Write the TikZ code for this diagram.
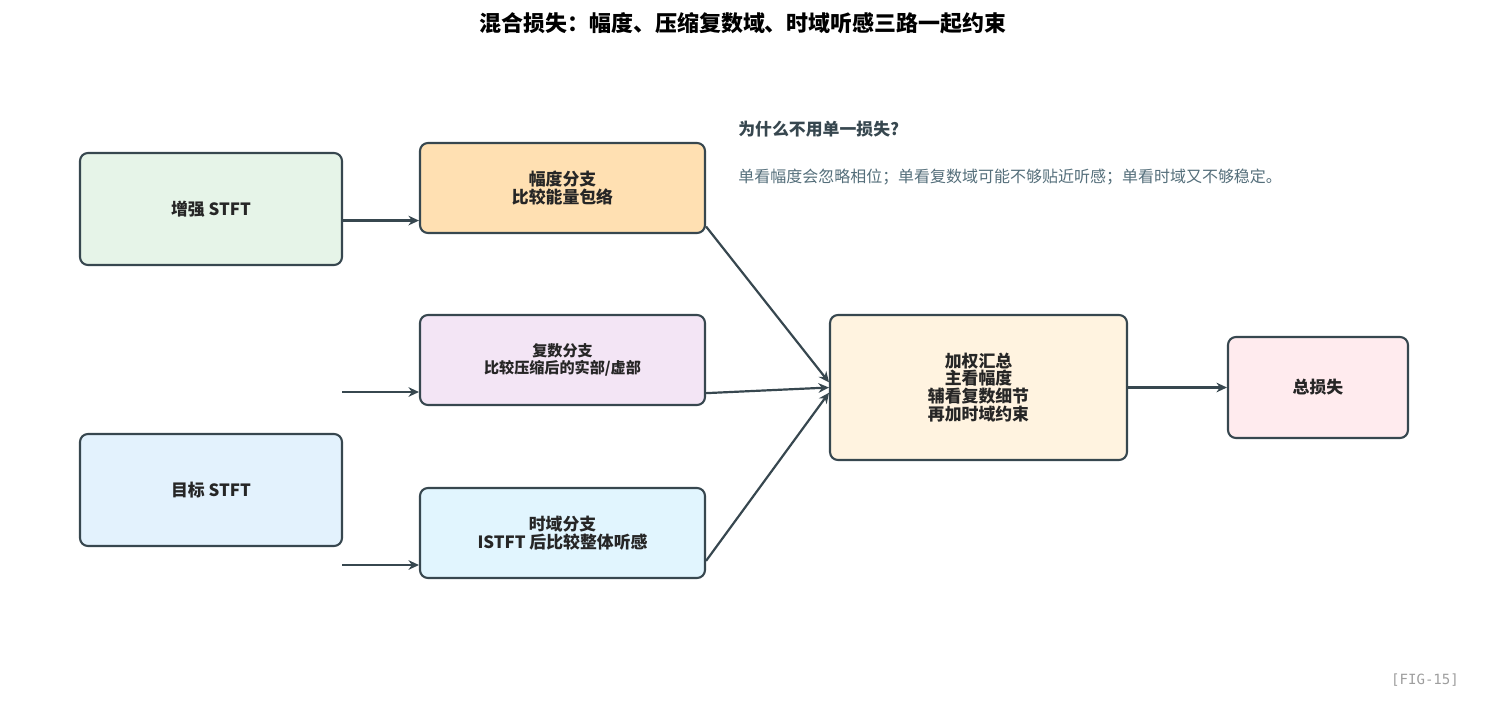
\documentclass[tikz,border=0pt]{standalone}
\usepackage{fontspec}
\setmainfont{Noto Sans CJK SC}
\newfontfamily\figmono{DejaVu Sans Mono}
\usetikzlibrary{arrows.meta}
\definecolor{edgegray}{HTML}{37474F}
\definecolor{notegray}{HTML}{546E7A}
\definecolor{taggray}{HTML}{9E9E9E}
\definecolor{enhfill}{HTML}{E6F4E8}
\definecolor{tgtfill}{HTML}{E3F2FD}
\definecolor{magfill}{HTML}{FFE0B2}
\definecolor{cpxfill}{HTML}{F3E5F5}
\definecolor{timefill}{HTML}{E1F5FE}
\definecolor{sumfill}{HTML}{FFF3E0}
\definecolor{totfill}{HTML}{FFEBEE}
\begin{document}
\begin{tikzpicture}[x=0.02cm,y=-0.02cm,
  box/.style={draw=edgegray,line width=1.2pt,rounded corners=4.5pt,align=center,
    font=\bfseries\fontsize{9.6}{10.2}\selectfont,text=black!85,inner sep=0pt},
  arr/.style={draw=edgegray,line width=1.25pt,-{Stealth[length=6pt,width=5.5pt]}}]
\useasboundingbox (0,0) rectangle (1487,707);
\node[font=\bfseries\fontsize{12.5}{14}\selectfont] (title) at (743,23) {混合损失：幅度、压缩复数域、时域听感三路一起约束};
\node[box,fill=enhfill,minimum width=5.24cm,minimum height=2.24cm] (enh) at (211,209) {增强 STFT};
\node[box,fill=tgtfill,minimum width=5.24cm,minimum height=2.24cm] (tgt) at (211,490) {目标 STFT};
\node[box,fill=magfill,minimum width=5.7cm,minimum height=1.8cm] (mag) at (562.5,188) {幅度分支\\比较能量包络};
\node[box,fill=cpxfill,minimum width=5.7cm,minimum height=1.8cm,font=\bfseries\fontsize{8.6}{9.6}\selectfont] (cpx) at (562.5,360) {复数分支\\比较压缩后的实部/虚部};
\node[box,fill=timefill,minimum width=5.7cm,minimum height=1.8cm] (time) at (562.5,533) {时域分支\\ISTFT 后比较整体听感};
\node[box,fill=sumfill,minimum width=5.94cm,minimum height=2.9cm] (sum) at (978.5,387.5) {加权汇总\\主看幅度\\辅看复数细节\\再加时域约束};
\node[box,fill=totfill,minimum width=3.6cm,minimum height=2.02cm] (total) at (1318,387.5) {总损失};
\node[anchor=west,inner sep=0pt,text=edgegray,font=\bfseries\fontsize{9.6}{10}\selectfont] (whyhead) at (738,129) {为什么不用单一损失?};
\node[anchor=west,inner sep=0pt,text=notegray,font=\fontsize{9.1}{10}\selectfont] (whybody) at (738,177) {单看幅度会忽略相位；单看复数域可能不够贴近听感；单看时域又不够稳定。};
\node[text=taggray,font=\figmono\fontsize{8}{9}\selectfont] (figtag) at (1425,680) {[FIG-15]};
\coordinate (cpxin) at (342,392);
\coordinate (timein) at (342,565);
\draw[arr] (enh.-5) -- (enh.-5 -| mag.west);
\draw[arr] (cpxin) -- (cpxin -| cpx.west);
\draw[arr] (timein) -- (timein -| time.west);
\draw[arr] (mag.-15) -- (sum.178);
\draw[arr] (cpx.-13) -- (sum.180);
\draw[arr] (time.-11) -- (sum.182);
\draw[arr] (sum) -- (total);
\end{tikzpicture}
\end{document}
